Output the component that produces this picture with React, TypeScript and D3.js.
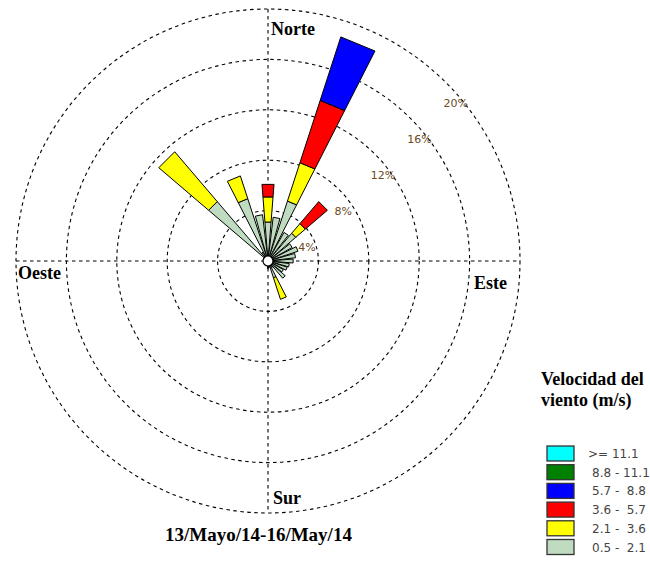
import React from "react";
import * as d3 from "d3";

// 32 direction sectors, 11.25° apart, starting at North, clockwise
const sectorCount = 32;
const ringTicks = [4, 8, 12, 16, 20];
const speedClasses = ["0.5 -  2.1", "2.1 -  3.6", "3.6 -  5.7", "5.7 -  8.8", "8.8 - 11.1", ">= 11.1"];
const speedColors = ["#c0dcc0", "#ffff00", "#ff0000", "#0000ff", "#008000", "#00ffff"];

// frequency (%) per sector for each speed class
const s05to21 = [3.1, 3.5, 5.0, 2.6, 2.9, 2.2, 2.5, 2.2, 2.0, 1.7, 1.6, 1.4, 1.8, 0.6, 1.4, 0.5, 0.6, 0.3, 0.2, 0.2, 0.2, 0.2, 0.2, 0.2, 0.3, 0.3, 0.3, 0.4, 6.2, 0.8, 5.2, 3.7];
const s21to36 = [2.0, 0, 3.2, 0, 1.0, 0, 0, 0, 0, 0, 0, 0, 0, 0, 1.8, 0, 0, 0, 0, 0, 0, 0, 0, 0, 0, 0, 0, 0, 5.2, 0, 1.9, 0];
const s36to57 = [1.0, 0, 5.2, 0, 2.3, 0, 0, 0, 0, 0, 0, 0, 0, 0, 0, 0, 0, 0, 0, 0, 0, 0, 0, 0, 0, 0, 0, 0, 0, 0, 0, 0];
const s57to88 = [0, 0, 5.3, 0, 0, 0, 0, 0, 0, 0, 0, 0, 0, 0, 0, 0, 0, 0, 0, 0, 0, 0, 0, 0, 0, 0, 0, 0, 0, 0, 0, 0];
const s88to111 = new Array(32).fill(0);
const s111up = new Array(32).fill(0);
const seriesBySpeed = [s05to21, s21to36, s36to57, s57to88, s88to111, s111up];

const directionLabels = ["Norte", "Este", "Sur", "Oeste"];
const titleText = "13/Mayo/14-16/May/14";
const legendTitle = ["Velocidad del", "viento (m/s)"];

export default function App() {
  const W = 650, H = 581;
  const cx = 268, cy = 261;
  const r = d3.scaleLinear().domain([0, 20]).range([0, 252]);
  const halfW = (4.5 * Math.PI) / 180;
  const serif = "'Liberation Serif', 'Times New Roman', serif";
  const sans = "'DejaVu Sans', Verdana, sans-serif";

  const pt = (ang: number, rad: number): [number, number] => [cx + rad * Math.sin(ang), cy - rad * Math.cos(ang)];
  const line = d3.line();

  const segs: { d: string; fill: string; key: string }[] = [];
  for (let i = 0; i < sectorCount; i++) {
    const ang = (i * 2 * Math.PI) / sectorCount;
    let cum = 0;
    seriesBySpeed.forEach((ser, k) => {
      const v = ser[i];
      if (!v) return;
      const r0 = r(cum), r1 = r(cum + v);
      cum += v;
      const p = [pt(ang - halfW, r0), pt(ang - halfW, r1), pt(ang + halfW, r1), pt(ang + halfW, r0)];
      segs.push({ d: line(p as any) + "Z", fill: speedColors[k], key: `${i}-${k}` });
    });
  }

  const R = r(20);
  const legendOrder = [5, 4, 3, 2, 1, 0];

  return (
    <svg width={W} height={H} style={{ position: "absolute", left: 0, top: 0, background: "#fff" }}>
      <rect x={0} y={0} width={W} height={H} fill="#fff" />
      {ringTicks.map((t) => (
        <circle key={t} cx={cx} cy={cy} r={r(t)} fill="none" stroke="#000" strokeWidth={1.1} strokeDasharray="3.5,3.5" />
      ))}
      <line x1={cx - R} x2={cx + R} y1={cy} y2={cy} stroke="#000" strokeWidth={1.1} strokeDasharray="3.5,3.5" />
      <line x1={cx} x2={cx} y1={cy - R} y2={cy + R} stroke="#000" strokeWidth={1.1} strokeDasharray="3.5,3.5" />
      {segs.map((s) => (
        <path key={s.key} d={s.d} fill={s.fill} stroke="#000" strokeWidth={1} strokeLinejoin="miter" />
      ))}
      <circle cx={cx} cy={cy} r={5} fill="#fff" stroke="#000" strokeWidth={1.2} />
      {ringTicks.map((t) => (
        <text key={"l" + t} x={cx + 0.72 * r(t) - 6} y={cy - 0.714 * r(t) + 26} fontFamily={sans} fontSize={11} fill="#6b4a1c">
          {t}%
        </text>
      ))}
      <text x={cx + 3} y={35} fontFamily={serif} fontWeight="bold" fontSize={18}>{directionLabels[0]}</text>
      <text x={474} y={289} fontFamily={serif} fontWeight="bold" fontSize={18}>{directionLabels[1]}</text>
      <text x={cx + 5} y={504} fontFamily={serif} fontWeight="bold" fontSize={18}>{directionLabels[2]}</text>
      <text x={18} y={279} fontFamily={serif} fontWeight="bold" fontSize={18}>{directionLabels[3]}</text>
      <text x={258.5} y={541} textAnchor="middle" fontFamily={serif} fontWeight="bold" fontSize={19}>{titleText}</text>
      <text x={541} y={385} fontFamily={serif} fontWeight="bold" fontSize={18}>{legendTitle[0]}</text>
      <text x={541} y={406} fontFamily={serif} fontWeight="bold" fontSize={18}>{legendTitle[1]}</text>
      {legendOrder.map((k, j) => {
        const y = 446 + j * 18.7;
        return (
          <g key={"lg" + k}>
            <rect x={547} y={y} width={27} height={15} fill={speedColors[k]} stroke="#333" strokeWidth={1.3} />
            <text x={k === 5 ? 588 : 592} y={y + 12} fontFamily={sans} fontSize={12} fill="#444" style={{ whiteSpace: "pre" }}>
              {speedClasses[k]}
            </text>
          </g>
        );
      })}
    </svg>
  );
}
